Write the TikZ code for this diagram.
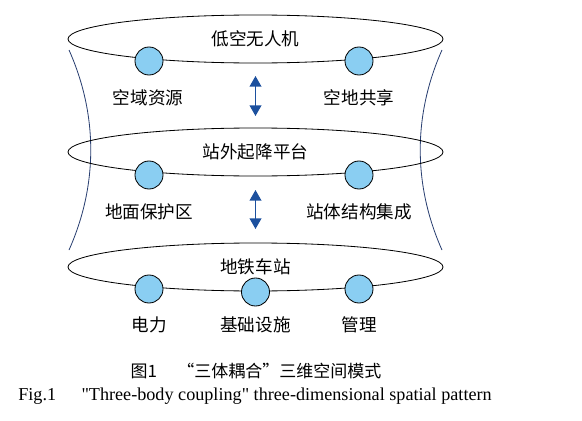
\documentclass[tikz,border=0pt]{standalone}
\usepackage{fontspec}
\setmainfont{Liberation Serif}[Ligatures=TeXOff]
\newfontfamily\cjk{Noto Sans CJK SC}
\usetikzlibrary{arrows.meta,shapes.geometric}
\definecolor{dotblue}{RGB}{138,206,242}
\definecolor{arrowblue}{RGB}{28,80,158}
\definecolor{sidenavy}{RGB}{40,62,112}
\tikzset{
  ring/.style={draw, ellipse, line width=0.7pt, minimum width=11.25cm, minimum height=1.44cm, inner sep=0pt, font=\cjk\fontsize{15}{15}\selectfont},
  dot/.style={draw, circle, fill=dotblue, line width=0.7pt, minimum size=0.84cm, inner sep=0pt},
  tag/.style={font=\cjk\fontsize{15}{15}\selectfont},
  link/.style={{Triangle[width=10pt,length=9pt]}-{Triangle[width=10pt,length=9pt]}, arrowblue, line width=1.1pt},
  side/.style={sidenavy, line width=0.7pt}
}
\begin{document}
\begin{tikzpicture}[x=0.03cm, y=-0.03cm]
    \useasboundingbox (0,0) rectangle (582,421);
    % Side walls
    \draw [side] (69,50) .. controls (98,115) and (98,185) .. (69,250);
    \draw [side] (442,50) .. controls (413,115) and (413,185) .. (442,250);

    % Top layer
    \node [ring] (air) at (255.5,39) {低空无人机};
    \node [dot] (airL) at (149,61) {};
    \node [dot] (airR) at (359,61) {};
    \node [tag] (res) at (148,98) {空域资源};
    \node [tag] (share) at (359,98) {空地共享};

    % Middle layer
    \node [ring] (pad) at (255.5,152) {站外起降平台};
    \node [dot] (padL) at (149,175) {};
    \node [dot] (padR) at (359,175) {};
    \node [tag] (guard) at (149,212) {地面保护区};
    \node [tag] (integ) at (359,212) {站体结构集成};

    % Bottom layer
    \node [ring] (metro) at (255.5,267) {地铁车站};
    \node [dot] (metroL) at (149,289) {};
    \node [dot] (metroM) at (255.5,292) {};
    \node [dot] (metroR) at (359,289) {};
    \node [tag] (power) at (149,325) {电力};
    \node [tag] (infra) at (255.5,325) {基础设施};
    \node [tag] (manage) at (359,325) {管理};

    % Coupling arrows
    \coordinate (up1) at (255.5,76);
    \coordinate (dn1) at (255.5,116);
    \coordinate (up2) at (255.5,190);
    \coordinate (dn2) at (255.5,229);
    \draw [link] (up1) -- (dn1);
    \draw [link] (up2) -- (dn2);

    % Caption
    \node [font=\cjk\fontsize{14.5}{14.5}\selectfont] (capcn) at (256,371) {图1\hspace{1.2em}“三体耦合”三维空间模式};
    \node [font=\fontsize{15.5}{15.5}\selectfont] (capen) at (255,396) {Fig.1\hspace{1.4em}"Three-body coupling" three-dimensional spatial pattern};
\end{tikzpicture}
\end{document}
